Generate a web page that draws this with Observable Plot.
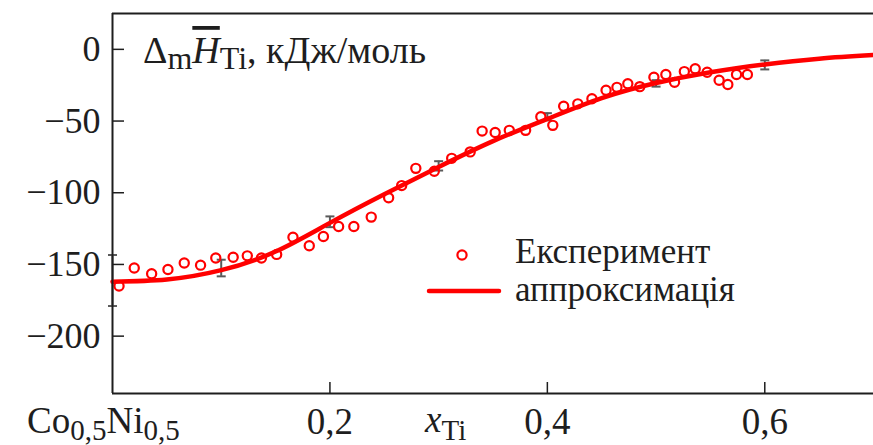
<!DOCTYPE html>
<html><head><meta charset="utf-8">
<script src="https://cdn.jsdelivr.net/npm/d3@7"></script>
<script src="https://cdn.jsdelivr.net/npm/@observablehq/plot@0.6"></script>
<style>
body{margin:0;background:#fff;}
svg text{font-family:"Liberation Serif","Times New Roman",serif;}
</style></head><body><div id="chart"></div>
<script>
// Experimental points (x_Ti, ΔmH_Ti kJ/mol)
const expX = [0.006,0.020,0.036,0.051,0.066,0.081,0.095,0.111,0.124,0.137,0.151,0.166,0.181,0.194,0.208,0.222,0.238,0.254,0.266,0.279,0.296,0.312,0.329,0.340,0.352,0.365,0.380,0.394,0.405,0.415,0.428,0.441,0.454,0.464,0.474,0.485,0.498,0.509,0.517,0.526,0.536,0.547,0.558,0.566,0.574,0.584];
const expY = [-165,-152.5,-156.5,-153.5,-149,-150.5,-145.5,-145,-144,-145.5,-143,-131,-137,-130.5,-123.5,-123.5,-117,-103.5,-95,-83,-85,-76,-71.5,-57,-58,-56.5,-56.5,-47,-53,-39.7,-38,-34.5,-28.5,-26.5,-24,-26,-19.5,-17.5,-23,-15.5,-13.5,-16,-21.5,-24.5,-17.5,-17.5];
// Approximation curve
const fitX = [0,0.05,0.1,0.15,0.2,0.25,0.3,0.35,0.4,0.45,0.5,0.55,0.6,0.65,0.7];
const fitY = [-162,-160.5,-154,-141,-121,-101,-82,-64,-48.5,-34,-23.5,-16,-10.5,-6.5,-4];
// Error bars
const errX = [0,0.1,0.2,0.3,0.4,0.5,0.6];
const errLo = [-179,-158.3,-124,-84.5,-49.5,-26,-14];
const errHi = [-143.4,-146.7,-116.5,-78,-44.5,-21.5,-7.7];
// Ticks
const xTicks = [0.2,0.4,0.6];
const xTickLabels = ["0,2","0,4","0,6"];
const yTicks = [0,-50,-100,-150,-200];
const yTickLabels = ["0","−50","−100","−150","−200"];
const legendLabels = ["Експеримент","аппроксимація"];

const expData = expX.map((x,i)=>({x, y: expY[i]}));
const fitData = fitX.map((x,i)=>({x, y: fitY[i]}));
const errData = errX.map((x,i)=>({x, lo: errLo[i], hi: errHi[i]}));
const capData = errData.flatMap(d=>[{x:d.x,y:d.lo},{x:d.x,y:d.hi}]);
const capSymbol = {draw(ctx, size){ const r = Math.sqrt(size/Math.PI); ctx.moveTo(-r,0); ctx.lineTo(r,0); }};

const RED = "#ff0000", INK = "#1e1e1e", GREY = "#5a5a5a";
const SERIF = "'Liberation Serif','Times New Roman',serif";

const plot = Plot.plot({
  width: 873, height: 445,
  marginLeft: 112, marginRight: 0, marginTop: 13, marginBottom: 52,
  x: {domain: [0, 0.7]},
  y: {domain: [-240, 25]},
  style: {fontFamily: SERIF, fontSize: "36px", color: INK, background: "#fff", overflow: "visible"},
  marks: [
    Plot.ruleX(errData, {x: "x", y1: "lo", y2: "hi", stroke: GREY, strokeWidth: 2}),
    Plot.dot(capData, {x: "x", y: "y", symbol: capSymbol, r: 4.5, stroke: GREY, strokeWidth: 2}),
    Plot.line(fitData, {x: "x", y: "y", stroke: RED, strokeWidth: 4.5, curve: "natural"}),
    Plot.dot(expData, {x: "x", y: "y", r: 4.6, stroke: RED, strokeWidth: 2.2, fill: "none"}),
    Plot.axisX(xTicks, {tickSize: -11, tickPadding: 25, strokeWidth: 1.5, stroke: INK, fontSize: 37, label: null,
      tickFormat: d => xTickLabels[xTicks.indexOf(d)]}),
    Plot.axisY(yTicks, {tickSize: -12, tickPadding: 24, strokeWidth: 1.5, stroke: INK, fontSize: 36, label: null,
      tickFormat: d => yTickLabels[yTicks.indexOf(d)]}),
    Plot.ruleX([0], {stroke: INK, strokeWidth: 2}),
    Plot.ruleY([25, -240], {stroke: INK, strokeWidth: 2})
  ]
});

const svg = d3.select(plot);
function txt(x, y, size){
  return svg.append("text").attr("x", x).attr("y", y).attr("font-size", size)
    .attr("fill", INK).attr("text-anchor", "start").attr("font-family", SERIF);
}

// Title inside plot
const t = txt(143, 63, 38);
t.append("tspan").text("Δ");
t.append("tspan").attr("font-size", 32).attr("dy", 6).text("m");
t.append("tspan").attr("font-style", "italic").attr("dy", -6).attr("text-decoration", "overline").text("H");
t.append("tspan").attr("font-size", 32).attr("dy", 6).text("Ti");
t.append("tspan").attr("dy", -6).text(", кДж/моль");

// x origin label (composition)
const c = txt(27, 433, 37);
c.append("tspan").text("Co");
c.append("tspan").attr("font-size", 29).attr("dy", 7).text("0,5");
c.append("tspan").attr("dy", -7).text("Ni");
c.append("tspan").attr("font-size", 29).attr("dy", 7).text("0,5");

// x axis label
const xl = txt(425, 432, 37);
xl.append("tspan").attr("font-style", "italic").text("x");
xl.append("tspan").attr("font-size", 29).attr("dy", 8).text("Ti");

// Legend
const lg = svg.append("g");
lg.append("circle").attr("cx", 462).attr("cy", 255).attr("r", 4.6).attr("fill", "none").attr("stroke", RED).attr("stroke-width", 2.2);
lg.append("line").attr("x1", 429).attr("x2", 499).attr("y1", 291).attr("y2", 291).attr("stroke", RED).attr("stroke-width", 4.5).attr("stroke-linecap", "round");
txt(515, 263, 35).text(legendLabels[0]);
txt(515, 301, 35).text(legendLabels[1]);

document.getElementById("chart").appendChild(plot);
</script></body></html>
